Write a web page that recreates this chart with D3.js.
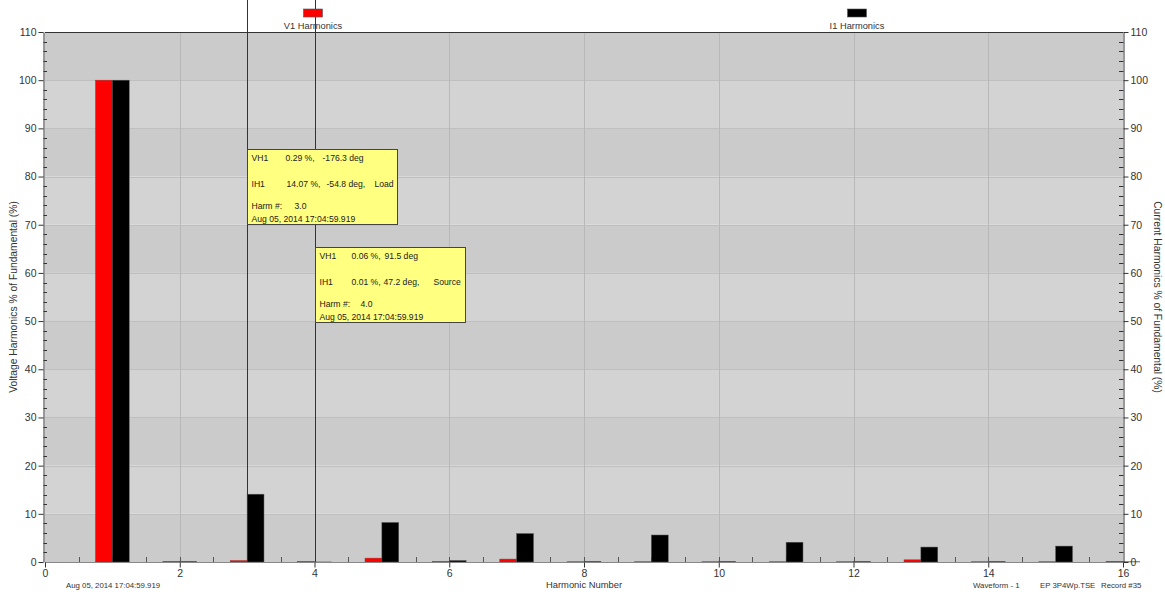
<!DOCTYPE html>
<html>
<head>
<meta charset="utf-8">
<script src="https://cdn.jsdelivr.net/npm/d3@7"></script>
<style>
  body { margin: 0; background: #fff; }
  svg { display: block; font-family: "Liberation Sans", Arial, sans-serif; }
</style>
</head>
<body>
<div id="chart"></div>
<script>
const width = 1165;
const height = 592;

// harmonic numbers and the two series (% of fundamental)
const harmonics = [1, 2, 3, 4, 5, 6, 7, 8, 9, 10, 11, 12, 13, 14, 15, 16];
const voltage = [100, 0.08, 0.29, 0.06, 0.8, 0.06, 0.6, 0.05, 0.05, 0.05, 0.05, 0.05, 0.45, 0.05, 0.05, 0.1];
const current = [100, 0.1, 14.07, 0.01, 8.2, 0.3, 5.9, 0.1, 5.6, 0.1, 4.1, 0.1, 3.1, 0.1, 3.3, 0.05];

const seriesNames = ["V1 Harmonics", "I1 Harmonics"];
const seriesColors = ["#ff0000", "#000000"];

const xTicks = [0, 2, 4, 6, 8, 10, 12, 14, 16];
const yTicks = [0, 10, 20, 30, 40, 50, 60, 70, 80, 90, 100, 110];

// cursor read-outs
const cursorHarm = [3, 4];
const cursorVH = ["0.29 %,", "0.06 %,"];
const cursorVDeg = ["-176.3 deg", "91.5 deg"];
const cursorIH = ["14.07 %,", "0.01 %,"];
const cursorIDeg = ["-54.8 deg,", "47.2 deg,"];
const cursorDir = ["Load", "Source"];
const cursorTime = "Aug 05, 2014 17:04:59.919";

const margin = {top: 32, right: 42, bottom: 30, left: 45};

const x = d3.scaleLinear().domain([0, 16]).range([margin.left, width - margin.right]);
const y = d3.scaleLinear().domain([0, 110]).range([height - margin.bottom, margin.top]);

const svg = d3.select("#chart").append("svg")
    .attr("width", width)
    .attr("height", height);

const plotW = x(16) - x(0);

// alternating horizontal bands
const bands = d3.range(0, 110, 10);
svg.append("g").selectAll("rect")
    .data(bands)
    .join("rect")
    .attr("x", x(0))
    .attr("width", plotW)
    .attr("y", d => y(d + 10))
    .attr("height", d => y(d) - y(d + 10))
    .attr("fill", d => (d / 10) % 2 === 0 ? "#cbcbcb" : "#d3d3d3");

// grid
svg.append("g").selectAll("line")
    .data(yTicks.slice(1, -1))
    .join("line")
    .attr("x1", x(0)).attr("x2", x(16))
    .attr("y1", d => Math.round(y(d)) + 0.5).attr("y2", d => Math.round(y(d)) + 0.5)
    .attr("stroke", "#bfbfbf");

svg.append("g").selectAll("line")
    .data(xTicks.slice(1, -1))
    .join("line")
    .attr("x1", d => Math.round(x(d)) + 0.5).attr("x2", d => Math.round(x(d)) + 0.5)
    .attr("y1", y(110)).attr("y2", y(0))
    .attr("stroke", "#b8b8b8");

// minor x ticks inside plot
svg.append("g").selectAll("line")
    .data(d3.range(0.5, 16, 0.5))
    .join("line")
    .attr("x1", d => Math.round(x(d)) + 0.5).attr("x2", d => Math.round(x(d)) + 0.5)
    .attr("y1", y(0)).attr("y2", y(0) - 5)
    .attr("stroke", "#555");

// bars
const barW = x(0.25) - x(0);
const gBars = svg.append("g");
harmonics.forEach((h, i) => {
  gBars.append("rect")
    .attr("x", x(h) - barW)
    .attr("width", barW)
    .attr("y", y(voltage[i]))
    .attr("height", y(0) - y(voltage[i]))
    .attr("fill", seriesColors[0])
    .attr("stroke", "#9a3030")
    .attr("stroke-width", 0.5);
  gBars.append("rect")
    .attr("x", x(h))
    .attr("width", barW)
    .attr("y", y(current[i]))
    .attr("height", y(0) - y(current[i]))
    .attr("fill", seriesColors[1])
    .attr("stroke", "#555")
    .attr("stroke-width", 0.5);
});

// frame
svg.append("line").attr("x1", x(0)).attr("x2", x(16)).attr("y1", y(110) + 0.5).attr("y2", y(110) + 0.5).attr("stroke", "#333");
svg.append("line").attr("x1", x(0)).attr("x2", x(16)).attr("y1", y(0) + 0.5).attr("y2", y(0) + 0.5).attr("stroke", "#888");

// axes
const tickFont = "10.5px";
const xAxis = d3.axisBottom(x).tickValues(xTicks).tickSize(5).tickPadding(2);
const gx = svg.append("g").attr("transform", `translate(0,${y(0) + 0.5})`).call(xAxis);
gx.select(".domain").remove();
gx.selectAll("line").attr("stroke", "#333");
gx.selectAll("text").attr("font-size", tickFont).attr("fill", "#333").attr("font-family", null);

const yLeft = d3.axisLeft(y).tickValues(yTicks).tickSize(5).tickPadding(2).tickSizeOuter(0);
const gyl = svg.append("g").attr("transform", `translate(${x(0) - 1.5},0)`).call(yLeft);
gyl.select(".domain").attr("stroke", "#333");
gyl.selectAll("line").attr("stroke", "#333");
gyl.selectAll("text").attr("font-size", tickFont).attr("fill", "#333").attr("font-family", null);

const yRight = d3.axisRight(y).tickValues(yTicks).tickSize(5).tickPadding(2).tickSizeOuter(0);
const gyr = svg.append("g").attr("transform", `translate(${x(16) + 0.5},0)`).call(yRight);
gyr.select(".domain").attr("stroke", "#333");
gyr.selectAll("line").attr("stroke", "#333");
gyr.selectAll("text").attr("font-size", tickFont).attr("fill", "#333").attr("font-family", null);

// minor y ticks (inside, both sides)
const minorY = d3.range(0, 110, 2).filter(v => v % 10 !== 0);
svg.append("g").selectAll("line")
    .data(minorY)
    .join("line")
    .attr("x1", x(0) - 1.5).attr("x2", x(0) + 2)
    .attr("y1", d => Math.round(y(d)) + 0.5).attr("y2", d => Math.round(y(d)) + 0.5)
    .attr("stroke", "#333");
svg.append("g").selectAll("line")
    .data(minorY)
    .join("line")
    .attr("x1", x(16) + 0.5).attr("x2", x(16) - 4)
    .attr("y1", d => Math.round(y(d)) + 0.5).attr("y2", d => Math.round(y(d)) + 0.5)
    .attr("stroke", "#333");

// cursor lines
svg.append("g").selectAll("line")
    .data(cursorHarm)
    .join("line")
    .attr("x1", d => Math.round(x(d)) + 0.5).attr("x2", d => Math.round(x(d)) + 0.5)
    .attr("y1", 0).attr("y2", y(0))
    .attr("stroke", "#333");

// legend
const legendX = [313, 857];
seriesNames.forEach((name, i) => {
  svg.append("rect")
    .attr("x", legendX[i] - 9.5).attr("y", 9)
    .attr("width", 19).attr("height", 8)
    .attr("fill", seriesColors[i])
    .attr("stroke", "#555").attr("stroke-width", 0.6);
  svg.append("text")
    .attr("x", legendX[i]).attr("y", 29)
    .attr("text-anchor", "middle")
    .attr("font-size", "9.3px").attr("fill", "#333")
    .text(name);
});

// axis titles
svg.append("text")
    .attr("transform", `translate(17,${(y(0) + y(110)) / 2}) rotate(-90)`)
    .attr("text-anchor", "middle")
    .attr("font-size", "10.3px").attr("fill", "#333")
    .text("Voltage Harmonics % of Fundamental (%)");
svg.append("text")
    .attr("transform", `translate(1154,${(y(0) + y(110)) / 2}) rotate(90)`)
    .attr("text-anchor", "middle")
    .attr("font-size", "10.3px").attr("fill", "#333")
    .text("Current Harmonics % of Fundamental (%)");

svg.append("text")
    .attr("x", (x(0) + x(16)) / 2).attr("y", 588)
    .attr("text-anchor", "middle")
    .attr("font-size", "9.4px").attr("fill", "#333")
    .text("Harmonic Number");

// footer info
const footer = [
  {t: cursorTime, x: 66},
  {t: "Waveform - 1", x: 973},
  {t: "EP 3P4Wp.TSE", x: 1040},
  {t: "Record #35", x: 1101}
];
svg.append("g").selectAll("text")
    .data(footer)
    .join("text")
    .attr("x", d => d.x).attr("y", 588)
    .attr("font-size", "7.8px").attr("fill", "#333")
    .text(d => d.t);

// cursor read-out boxes
const boxTop = [149, 247];
cursorHarm.forEach((h, i) => {
  const bx = Math.round(x(h)) + 0.5;
  const by = boxTop[i] + 0.5;
  const g = svg.append("g").attr("transform", `translate(${bx},${by})`);
  g.append("rect")
    .attr("width", 150).attr("height", 75)
    .attr("fill", "#ffff80")
    .attr("stroke", "#444");
  const lines = [
    {t: "VH1", x: 4, y: 11},
    {t: cursorVH[i], x: i === 0 ? 38 : 36, y: 11},
    {t: cursorVDeg[i], x: i === 0 ? 75 : 69, y: 11},
    {t: "IH1", x: 4, y: 37},
    {t: cursorIH[i], x: i === 0 ? 39 : 36, y: 37},
    {t: cursorIDeg[i], x: i === 0 ? 79 : 68, y: 37},
    {t: cursorDir[i], x: i === 0 ? 127 : 118, y: 37},
    {t: "Harm #:", x: 4, y: 59},
    {t: d3.format(".1f")(h), x: i === 0 ? 47 : 45, y: 59},
    {t: cursorTime, x: 4, y: 72}
  ];
  g.selectAll("text")
    .data(lines)
    .join("text")
    .attr("x", d => d.x).attr("y", d => d.y)
    .attr("font-size", "8.6px").attr("fill", "#222")
    .text(d => d.t);
});
</script>
</body>
</html>
